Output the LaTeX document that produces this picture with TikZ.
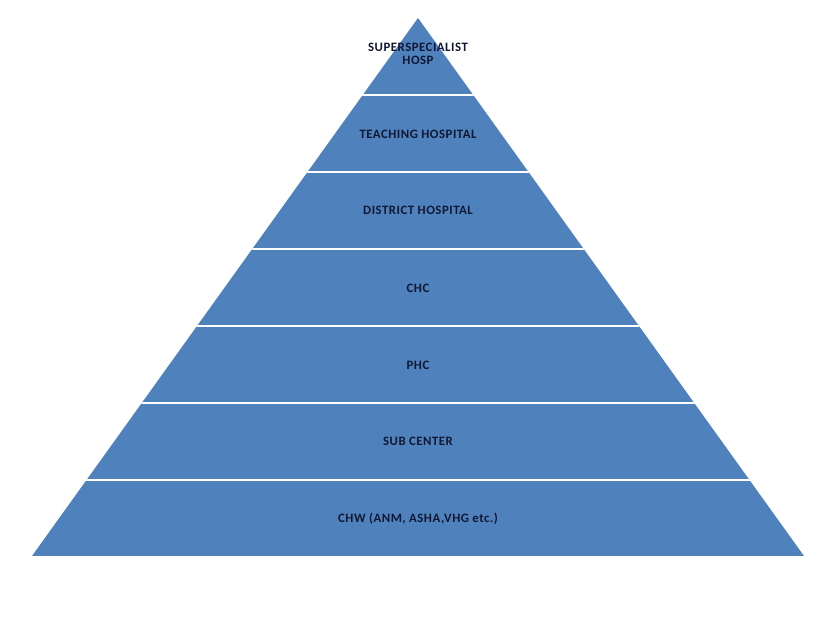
\documentclass[tikz,border=0pt]{standalone}
\usepackage{fontspec}
\setmainfont{Carlito}
\newfontfamily\bandfont[LetterSpace=4]{Carlito}
\begin{document}
\begin{tikzpicture}[x=1pt,y=1pt,
  bandtxt/.style={text=textnavy,font=\bandfont\bfseries\fontsize{12.8}{13}\selectfont,align=center,inner sep=0pt},
  sepline/.style={draw=white,line width=2.6pt}]
\definecolor{pyrblue}{HTML}{4F81BD}
\definecolor{textnavy}{HTML}{111833}
\useasboundingbox (0,0) rectangle (836,621);
\fill[white] (0,0) rectangle (836,621);
% pyramid (y = 621 - pixel y)
\coordinate (apex) at (418,603);
\coordinate (bl) at (32,65);
\coordinate (br) at (804,65);
\fill[pyrblue] (apex) -- (br) -- (bl) -- cycle;
\begin{scope}
  \clip (apex) -- (br) -- (bl) -- cycle;
  \foreach \yy in {95,172,249,326,403,480} {
    \draw[sepline] (0,621-\yy) -- (836,621-\yy);
  }
\end{scope}
\node[bandtxt] (l1) at (418,621-54) {SUPERSPECIALIST\\HOSP};
\node[bandtxt] (l2) at (418,621-134) {TEACHING HOSPITAL};
\node[bandtxt] (l3) at (418,621-210) {DISTRICT HOSPITAL};
\node[bandtxt] (l4) at (418,621-288) {CHC};
\node[bandtxt] (l5) at (418,621-365) {PHC};
\node[bandtxt] (l6) at (418,621-441) {SUB CENTER};
\node[bandtxt] (l7) at (418,621-519) {CHW (ANM, ASHA,VHG etc.)};
\end{tikzpicture}
\end{document}
